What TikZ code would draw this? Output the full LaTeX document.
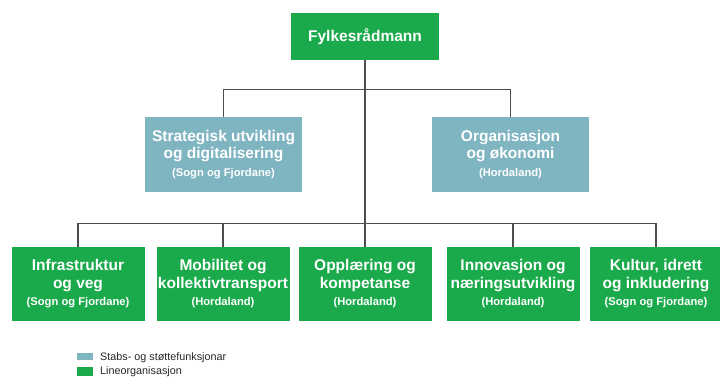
\documentclass[tikz,border=0pt]{standalone}
\usepackage{fontspec}
\setmainfont{Liberation Sans}
\definecolor{linegreen}{HTML}{1BAA4B}
\definecolor{stabteal}{HTML}{7FB4C1}
\definecolor{conn}{HTML}{4D4D4D}
\begin{document}
\begin{tikzpicture}[x=1pt,y=-1pt,
  orgbox/.style={rectangle, inner sep=0pt, text=white, align=center,
    font=\bfseries\fontsize{15.5}{17.5}\selectfont},
  greenbox/.style={orgbox, fill=linegreen, minimum width=133pt, minimum height=74pt},
  tealbox/.style={orgbox, fill=stabteal, minimum width=157pt, minimum height=75pt},
  link/.style={draw=conn, line width=1.3pt},
  legendtext/.style={anchor=base west, inner sep=0pt, font=\fontsize{10.8}{12}\selectfont, text=black!85}
]
\useasboundingbox (0,0) rectangle (720,376);

\node[orgbox, fill=linegreen, minimum width=148pt, minimum height=47pt] (top) at (365,36.5) {Fylkesrådmann};

\node[tealbox] (s1) at (223.5,154.5) {Strategisk utvikling\\og digitalisering\\{\fontsize{11.2}{17.5}\selectfont (Sogn og Fjordane)}};
\node[tealbox] (s2) at (510.5,154.5) {Organisasjon\\og økonomi\\{\fontsize{11.2}{17.5}\selectfont (Hordaland)}};

\node[greenbox] (b1) at (78,284) {Infrastruktur\\og veg\\{\fontsize{11.2}{17.5}\selectfont (Sogn og Fjordane)}};
\node[greenbox] (b2) at (223,284) {Mobilitet og\\kollektivtransport\\{\fontsize{11.2}{17.5}\selectfont (Hordaland)}};
\node[greenbox] (b3) at (365,284) {Opplæring og\\kompetanse\\{\fontsize{11.2}{17.5}\selectfont (Hordaland)}};
\node[greenbox] (b4) at (513,284) {Innovasjon og\\næringsutvikling\\{\fontsize{11.2}{17.5}\selectfont (Hordaland)}};
\node[greenbox] (b5) at (656,284) {Kultur, idrett\\og inkludering\\{\fontsize{11.2}{17.5}\selectfont (Sogn og Fjordane)}};

\path[link] (top.south) -- (b3.north);
\path[link] (s1.north) -- ++(0,-27) -| (s2.north);
\path[link] (b1.north) -- ++(0,-23) -| (b5.north);
\path[link] (b2.north) -- ++(0,-23);
\path[link] (b4.north) -- ++(0,-23);

\node[fill=stabteal, minimum width=16pt, minimum height=7.5pt, inner sep=0pt] (k1) at (85,356.5) {};
\node[fill=linegreen, minimum width=16pt, minimum height=9pt, inner sep=0pt] (k2) at (85,371.5) {};
\node[legendtext] (t1) at (100,360) {Stabs- og støttefunksjonar};
\node[legendtext] (t2) at (100,374) {Lineorganisasjon};
\end{tikzpicture}
\end{document}
